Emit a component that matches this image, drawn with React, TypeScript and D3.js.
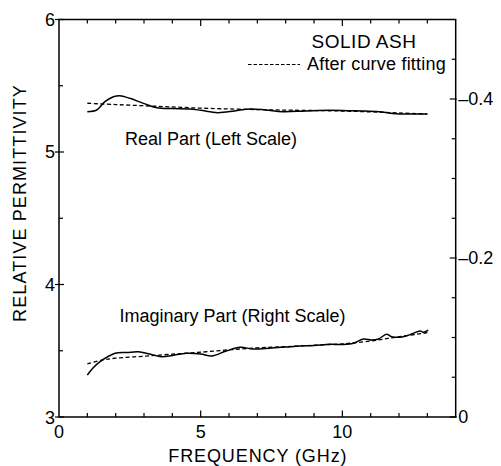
import React from 'react';
import * as d3 from 'd3';

// data
const realFreq = [1.0, 1.33, 1.62, 1.92, 2.15, 2.5, 2.98, 3.45, 4.0, 4.6, 5.0, 5.6, 6.2, 6.74, 7.3, 7.9, 8.7, 9.56, 10.2, 10.7, 11.3, 11.9, 12.5, 13.0];
const realMeasured = [5.304, 5.317, 5.38, 5.417, 5.425, 5.405, 5.367, 5.334, 5.328, 5.325, 5.315, 5.297, 5.31, 5.325, 5.317, 5.304, 5.31, 5.315, 5.312, 5.31, 5.304, 5.288, 5.287, 5.287];

const realFitFreq = [1, 2, 3, 4, 5, 6, 7, 8, 9, 10, 11, 12, 13];
const realFit = [5.368, 5.358, 5.349, 5.34, 5.331, 5.325, 5.32, 5.316, 5.313, 5.309, 5.303, 5.295, 5.287];

const imagFreq = [1.0, 1.2, 1.45, 1.98, 2.4, 2.8, 3.2, 3.62, 4.0, 4.5, 5.0, 5.39, 5.9, 6.39, 6.85, 7.5, 8.0, 8.5, 9.0, 9.56, 10.0, 10.39, 10.74, 11.04, 11.27, 11.56, 11.74, 12.15, 12.45, 12.74, 12.86, 13.03];
const imagMeasured = [-0.0528, -0.0616, -0.0696, -0.0801, -0.0811, -0.0821, -0.0792, -0.0758, -0.0774, -0.0801, -0.0792, -0.0767, -0.083, -0.0877, -0.0855, -0.0868, -0.088, -0.0893, -0.0899, -0.0914, -0.0912, -0.0927, -0.0981, -0.0969, -0.0981, -0.104, -0.101, -0.101, -0.1044, -0.1082, -0.1065, -0.1094];

const imagFitFreq = [1, 1.5, 2, 3, 4, 5, 6, 7, 8, 9, 10, 11, 12, 13];
const imagFit = [-0.0667, -0.0715, -0.074, -0.0765, -0.079, -0.0815, -0.0845, -0.087, -0.0885, -0.0903, -0.092, -0.0956, -0.101, -0.106];

const xTicks = [0, 5, 10];
const xMinor = [1, 2, 3, 4, 5, 6, 7, 8, 9, 10, 11, 12, 13];
const leftTicks = [3, 4, 5, 6];
const leftMinor = [3.5, 4.5, 5.5];
const rightTicks = [0, -0.2, -0.4];
const rightTickLabels = ['0', '\u20130.2', '\u20130.4'];
const rightMinor = [-0.05, -0.1, -0.15, -0.25, -0.3, -0.35, -0.45];

const W = 501;
const H = 466;
const FONT = '"Liberation Sans", Arial, Helvetica, sans-serif';

export default function App() {
    const left = 59, right = 455.7, top = 19.5, bottom = 417;

    const x = d3.scaleLinear().domain([0, 14]).range([left, right]);
    const yL = d3.scaleLinear().domain([3, 6]).range([bottom, top]);
    const yR = d3.scaleLinear().domain([0, -0.5]).range([bottom, top]);

    // smooth curve through the read points
    const path = (fs: number[], vs: number[], y: d3.ScaleLinear<number, number>) =>
        d3.line<number>()
            .x((f) => x(f))
            .y((_, i) => y(vs[i]))
            .curve(d3.curveCatmullRom.alpha(0.5))(fs) || '';

    const dash = '4,2.5';
    const txt = { fontFamily: FONT, fontSize: 18, fill: '#000' } as const;

    return (
        <svg width={W} height={H} style={{ position: 'absolute', left: 0, top: 0, background: '#fff' }}>
            {/* frame */}
            <rect x={left} y={top} width={right - left} height={bottom - top} fill="none" stroke="#000" strokeWidth={1.5} />

            {/* x ticks top & bottom */}
            {xMinor.map((t) => {
                const len = t % 5 === 0 ? 6.5 : 4;
                return (
                    <g key={'xm' + t}>
                        <line x1={x(t)} x2={x(t)} y1={bottom} y2={bottom - len} stroke="#000" strokeWidth={1.2} />
                        <line x1={x(t)} x2={x(t)} y1={top} y2={top + len} stroke="#000" strokeWidth={1.2} />
                    </g>
                );
            })}
            {xTicks.map((t) => (
                <text key={'xt' + t} x={x(t)} y={bottom + 21} textAnchor="middle" {...txt}>{t}</text>
            ))}

            {/* left axis */}
            {leftTicks.map((t) => (
                <g key={'lt' + t}>
                    <line x1={left - 4} x2={left + 5} y1={yL(t)} y2={yL(t)} stroke="#000" strokeWidth={1.2} />
                    <text x={left - 4} y={yL(t) + (t === 3 ? 1 : 0)} dy="0.36em" textAnchor="end" {...txt}>{t}</text>
                </g>
            ))}
            {leftMinor.map((t) => (
                <line key={'lm' + t} x1={left} x2={left + 4} y1={yL(t)} y2={yL(t)} stroke="#000" strokeWidth={1.2} />
            ))}

            {/* right axis */}
            {rightTicks.map((t, i) => (
                <g key={'rt' + t}>
                    <line x1={right - 6} x2={right + 1} y1={yR(t)} y2={yR(t)} stroke="#000" strokeWidth={1.2} />
                    <text x={right + 2.5} y={yR(t)} dy="0.36em" textAnchor="start" {...txt}>{rightTickLabels[i]}</text>
                </g>
            ))}
            {rightMinor.map((t) => (
                <line key={'rm' + t} x1={right - 4} x2={right} y1={yR(t)} y2={yR(t)} stroke="#000" strokeWidth={1.2} />
            ))}

            {/* axis titles */}
            <text x={(x(0) + x(14)) / 2 + 0.5} y={462} textAnchor="middle" {...txt} letterSpacing={0.9}>FREQUENCY (GHz)</text>
            <text transform={`translate(26, ${(88 + 318) / 2}) rotate(-90)`} textAnchor="middle" {...txt} letterSpacing={1.1}>RELATIVE PERMITTIVITY</text>

            {/* curves */}
            <path d={path(realFreq, realMeasured, yL)} fill="none" stroke="#000" strokeWidth={1.5} />
            <path d={path(realFitFreq, realFit, yL)} fill="none" stroke="#000" strokeWidth={1.3} strokeDasharray={dash} />
            <path d={path(imagFreq, imagMeasured, yR)} fill="none" stroke="#000" strokeWidth={1.5} />
            <path d={path(imagFitFreq, imagFit, yR)} fill="none" stroke="#000" strokeWidth={1.3} strokeDasharray={dash} />

            {/* annotations */}
            <text x={364} y={48} textAnchor="middle" {...txt} fontSize={19} letterSpacing={0.5}>SOLID ASH</text>
            <line x1={248} x2={300} y1={64.5} y2={64.5} stroke="#000" strokeWidth={1.2} strokeDasharray="3.5,2" />
            <text x={307} y={70} {...txt} letterSpacing={0.2}>After curve fitting</text>
            <text x={125} y={145} {...txt}>Real Part (Left Scale)</text>
            <text x={119.5} y={322} {...txt}>Imaginary Part (Right Scale)</text>
        </svg>
    );
}
